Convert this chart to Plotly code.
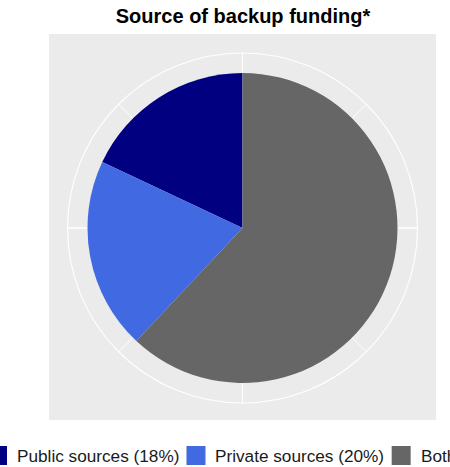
import plotly.graph_objects as go

# ---- data ----
categories = ["Public sources", "Private sources", "Both"]
shares = [18, 20, 62]
colors = ["#000080", "#4169E1", "#666666"]
title_text = "Source of backup funding*"

W, H = 450, 467
FONT = "Liberation Sans, Arial, sans-serif"

# slice geometry from shares (angles in degrees, counterclockwise from top)
total = sum(shares)
widths = [s / total * 360 for s in shares]
centers = []
acc = 0
for w in widths:
    centers.append(acc + w / 2)
    acc += w

labels = [f"{c} ({s}%)" for c, s in zip(categories, shares)]

fig = go.Figure()

# empty trace so the grid-only polar subplot gets drawn
fig.add_trace(go.Scatterpolar(r=[None], theta=[None], subplot="polar",
                              showlegend=False, hoverinfo="skip", mode="markers"))

fig.add_trace(go.Barpolar(
    r=[1] * len(shares), theta=centers, width=widths, base=0,
    marker=dict(color=colors, line=dict(width=0)),
    subplot="polar2", showlegend=False, hoverinfo="skip",
))

# layout geometry (pixels)
cx, cy, R = 242.5, 228, 175
pie_r = 155
dom_x = [(cx - R) / W, (cx + R) / W]
dom_y = [1 - (cy + R) / H, 1 - (cy - R) / H]
rmax = R / pie_r

def px(x):
    return x / W

def py(y):
    return 1 - y / H

common_radial = dict(range=[0, rmax], showgrid=False, showticklabels=False,
                     showline=False, ticks="")
fig.update_layout(
    width=W, height=H,
    margin=dict(l=0, r=0, t=0, b=0),
    paper_bgcolor="white", plot_bgcolor="white",
    showlegend=False,
    polar=dict(
        domain=dict(x=dom_x, y=dom_y),
        bgcolor="#EBEBEB",
        radialaxis=common_radial,
        angularaxis=dict(rotation=90, direction="counterclockwise",
                         dtick=45, gridcolor="white", gridwidth=0.6,
                         showline=True, linecolor="white", linewidth=1.1,
                         showticklabels=False, ticks=""),
    ),
    polar2=dict(
        domain=dict(x=dom_x, y=dom_y),
        bgcolor="rgba(0,0,0,0)",
        radialaxis=common_radial,
        angularaxis=dict(rotation=90, direction="counterclockwise",
                         dtick=90, gridcolor="white", gridwidth=1.2,
                         showline=False, showticklabels=False, ticks=""),
    ),
    title=dict(text=title_text, x=px(243), xanchor="center",
               y=py(16), yanchor="middle",
               font=dict(family=FONT, size=20, color="black", weight=700)),
)

# panel background
fig.add_shape(type="rect", xref="paper", yref="paper",
              x0=px(49), x1=px(436), y0=py(420), y1=py(34),
              fillcolor="#EBEBEB", line=dict(width=0), layer="below")

# ---- manual legend (overflowing the right edge, like the reference) ----
arial = {" ": 278, "P": 667, "u": 556, "b": 556, "l": 222, "i": 222, "c": 500,
         "s": 500, "o": 556, "r": 333, "e": 556, "(": 333, ")": 333, "%": 889,
         "v": 500, "a": 556, "t": 278, "B": 667, "h": 556}
legend_size = 17.2
key = 19
gap_key_text = 8
gap_items = 9
leg_y = 455.5
x = -12
for lab, col in zip(labels, colors):
    fig.add_shape(type="rect", xref="paper", yref="paper",
                  x0=px(x), x1=px(x + key), y0=py(leg_y + key / 2),
                  y1=py(leg_y - key / 2), fillcolor=col, line=dict(width=0))
    tx = x + key + gap_key_text
    fig.add_annotation(text=lab, xref="paper", yref="paper", x=px(tx), y=py(leg_y),
                       xanchor="left", yanchor="middle", showarrow=False,
                       font=dict(family=FONT, size=legend_size, color="#1a1a1a"))
    tw = sum(arial.get(ch, 556) for ch in lab) / 1000 * legend_size
    x = tx + tw + gap_items

fig.write_html("out.html", config={"displayModeBar": False},
               post_script="document.body.style.margin='0';document.body.style.overflow='hidden';")
